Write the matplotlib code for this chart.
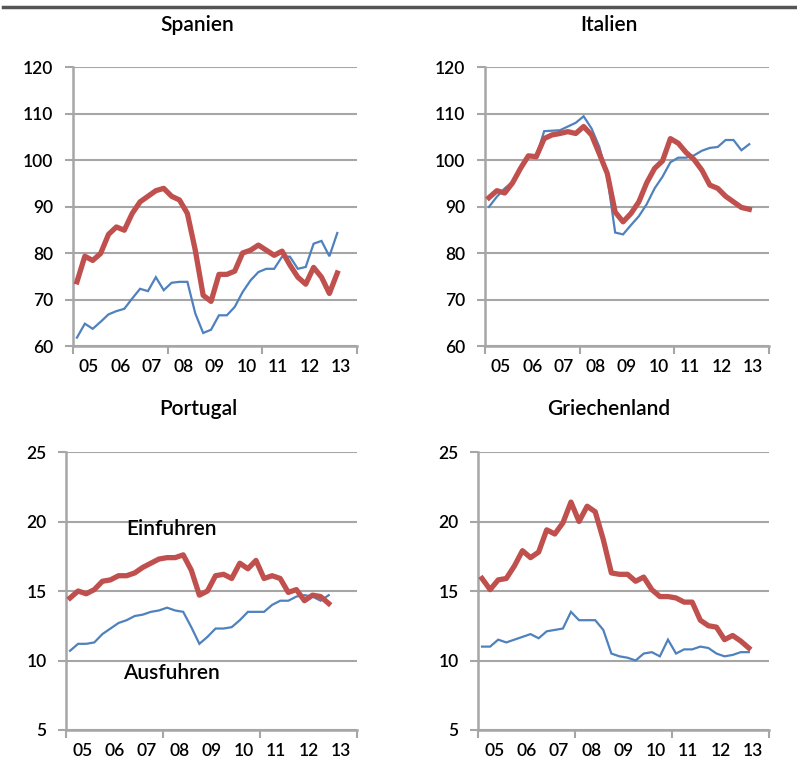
import matplotlib.pyplot as plt
import numpy as np

# quarterly data, 2005Q1 onwards
spanien_ein = [73.8, 79.3, 78.4, 79.9, 84.0, 85.6, 84.9, 88.5, 91.0, 92.2, 93.4, 93.9,
               92.2, 91.4, 88.5, 80.6, 70.9, 69.6, 75.4, 75.4, 76.1, 80.0, 80.6, 81.7,
               80.6, 79.5, 80.4, 77.4, 74.8, 73.3, 76.9, 74.8, 71.3, 75.7]
spanien_aus = [61.8, 64.8, 63.7, 65.2, 66.8, 67.5, 68.0, 70.2, 72.3, 71.8, 74.8, 72.0,
               73.6, 73.8, 73.8, 67.0, 62.8, 63.5, 66.6, 66.6, 68.4, 71.6, 74.1, 75.9,
               76.6, 76.6, 79.2, 79.2, 76.6, 77.0, 82.0, 82.6, 79.3, 84.3]

italien_ein = [91.9, 93.4, 92.9, 95.1, 98.2, 100.9, 100.7, 104.6, 105.4, 105.7, 106.1, 105.7,
               107.2, 105.4, 101.3, 97.1, 88.8, 86.7, 88.5, 91.0, 95.1, 98.2, 99.8, 104.6,
               103.6, 101.6, 100.1, 97.8, 94.6, 93.9, 92.2, 91.0, 89.8, 89.4]
italien_aus = [89.9, 92.1, 93.9, 95.3, 98.2, 100.7, 100.7, 106.2, 106.3, 106.4, 107.2, 108.0,
               109.4, 106.8, 102.8, 96.4, 84.4, 84.0, 86.0, 87.9, 90.5, 93.9, 96.4, 99.5,
               100.5, 100.5, 101.0, 102.0, 102.6, 102.8, 104.3, 104.3, 102.1, 103.4]

portugal_ein = [14.5, 15.0, 14.8, 15.1, 15.7, 15.8, 16.1, 16.1, 16.3, 16.7, 17.0, 17.3,
                17.4, 17.4, 17.6, 16.5, 14.7, 15.0, 16.1, 16.2, 15.9, 17.0, 16.6, 17.2,
                15.9, 16.1, 15.9, 14.9, 15.1, 14.3, 14.7, 14.6, 14.1]
portugal_aus = [10.7, 11.2, 11.2, 11.3, 11.9, 12.3, 12.7, 12.9, 13.2, 13.3, 13.5, 13.6,
                13.8, 13.6, 13.5, 12.4, 11.2, 11.7, 12.3, 12.3, 12.4, 12.9, 13.5, 13.5,
                13.5, 14.0, 14.3, 14.3, 14.6, 14.7, 14.6, 14.3, 14.7]

griechen_ein = [15.9, 15.1, 15.8, 15.9, 16.8, 17.9, 17.4, 17.8, 19.4, 19.1, 19.9, 21.4,
                20.0, 21.1, 20.7, 18.7, 16.3, 16.2, 16.2, 15.7, 16.0, 15.1, 14.6, 14.6,
                14.5, 14.2, 14.2, 12.9, 12.5, 12.4, 11.5, 11.8, 11.4, 10.9]
griechen_aus = [11.0, 11.0, 11.5, 11.3, 11.5, 11.7, 11.9, 11.6, 12.1, 12.2, 12.3, 13.5,
                12.9, 12.9, 12.9, 12.2, 10.5, 10.3, 10.2, 10.0, 10.5, 10.6, 10.3, 11.5,
                10.5, 10.8, 10.8, 11.0, 10.9, 10.5, 10.3, 10.4, 10.6, 10.6]

year_labels = ['05', '06', '07', '08', '09', '10', '11', '12', '13']

red = '#C0504D'
blue = '#4F81BD'
grid_col = '#A6A6A6'
fname = 'Lato'

fig = plt.figure(figsize=(7.97, 7.74), dpi=100)

panels = [
    ('Spanien', spanien_ein, spanien_aus, [73, 67, 357, 346], (60, 120, 10)),
    ('Italien', italien_ein, italien_aus, [485, 67, 769, 346], (60, 120, 10)),
    ('Portugal', portugal_ein, portugal_aus, [66, 452, 357, 730], (5, 25, 5)),
    ('Griechenland', griechen_ein, griechen_aus, [478, 452, 769, 730], (5, 25, 5)),
]

W, H = 797.0, 774.0
axes = []
for title, ein, aus, box, (ymin, ymax, ystep) in panels:
    l, t, r, b = box
    ax = fig.add_axes([l / W, 1 - b / H, (r - l) / W, (b - t) / H])
    x_e = 2005 + (np.arange(len(ein)) + 0.5) / 4
    x_a = 2005 + (np.arange(len(aus)) + 0.5) / 4
    ax.plot(x_a, aus, color=blue, lw=1.6, solid_joinstyle='miter', zorder=3)
    ax.plot(x_e, ein, color=red, lw=3.8, solid_joinstyle='round', zorder=4)
    ax.set_xlim(2005, 2014)
    ax.set_ylim(ymin, ymax)
    yt = np.arange(ymin, ymax + ystep, ystep)
    ax.set_yticks(yt)
    ax.set_yticklabels([str(v) for v in yt], fontsize=12.5, fontfamily=fname,
                       fontweight='semibold')
    ax.set_xticks([2005, 2008, 2011, 2014])
    ax.set_xticklabels([])
    ax.set_xticks(np.arange(2005.5, 2014, 1), minor=True)
    ax.set_xticklabels(year_labels, minor=True, fontsize=12.5, fontfamily=fname,
                       fontweight='semibold')
    ax.tick_params(axis='x', which='minor', length=0, pad=9)
    ax.tick_params(axis='x', which='major', length=6, width=1.5, color=grid_col)
    ax.tick_params(axis='y', length=6, width=1.5, color=grid_col, pad=8)
    ax.grid(axis='y', color=grid_col, lw=1.5, zorder=0)
    for s in ['top', 'right']:
        ax.spines[s].set_visible(False)
    for s in ['left', 'bottom']:
        ax.spines[s].set_color(grid_col)
        ax.spines[s].set_linewidth(1.8)
    ax.set_facecolor('none')
    ax.set_axisbelow(True)
    axes.append(ax)

# titles in figure coordinates
title_kw = dict(ha='center', va='center', fontsize=15, fontfamily=fname,
                fontweight='semibold')
fig.text(197 / W, 1 - 25 / H, 'Spanien', **title_kw)
fig.text(609 / W, 1 - 25 / H, 'Italien', **title_kw)
fig.text(198 / W, 1 - 409 / H, 'Portugal', **title_kw)
fig.text(609 / W, 1 - 409 / H, 'Griechenland', **title_kw)

# series labels in the Portugal panel
axes[2].text(2008.27, 19.45, 'Einfuhren', fontsize=15, fontfamily=fname,
             fontweight='semibold', va='center', ha='center')
axes[2].text(2008.27, 9.1, 'Ausfuhren', fontsize=15, fontfamily=fname,
             fontweight='semibold', va='center', ha='center')

# rule at the top
fig.add_artist(plt.Line2D([3 / W, 1], [1 - 7 / H, 1 - 7 / H], color='#555555', lw=2.5))

fig.savefig('out.png', dpi=100)
